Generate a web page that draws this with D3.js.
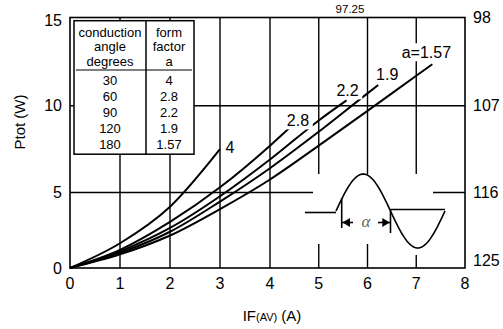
<!DOCTYPE html>
<html>
<head>
<meta charset="utf-8">
<script src="https://cdn.jsdelivr.net/npm/d3@7"></script>
<style>
  body { margin: 0; background: #fff; }
  svg { display: block; font-family: "Liberation Sans", Arial, sans-serif; }
</style>
</head>
<body>
<div id="container"></div>
<script>
// values
const formFactors = ["4", "2.8", "2.2", "1.9", "a=1.57"];
const curve4 = [[0, 0], [1, 1.64], [2, 4.06], [3, 7.5]];
const curve28 = [[0, 0], [1, 1.2], [2, 3.05], [3, 5.3], [4, 7.7], [4.41, 8.75]];
const curve22 = [[0, 0], [1, 1.1], [2, 2.65], [3, 4.75], [4, 6.9], [5, 9.15], [5.57, 10.3]];
const curve19 = [[0, 0], [1, 1.0], [2, 2.4], [3, 4.4], [4, 6.4], [5, 8.5], [6, 10.7], [6.22, 11.17]];
const curve157 = [[0, 0], [1, 0.9], [2, 2.15], [3, 3.9], [4, 5.75], [5, 7.7], [6, 9.7], [7, 11.7], [7.33, 12.35]];
const xTicks = [0, 1, 2, 3, 4, 5, 6, 7, 8];
const yTicks = [0, 5, 10, 15];
const tcaseTicks = [98, 107, 116, 125];
const tableAngles = ["30", "60", "90", "120", "180"];
const tableFactors = ["4", "2.8", "2.2", "1.9", "1.57"];

const width = 503, height = 329;

const svg = d3.select("#container").append("svg")
    .attr("width", width)
    .attr("height", height);

const x = d3.scaleLinear().domain([0, 4, 8]).range([70, 270, 465]);
const y = d3.scaleLinear().domain([0, 5, 10, 15]).range([268, 192.5, 105.7, 17.5]);

// grid
const grid = svg.append("g").attr("stroke", "#000").attr("stroke-width", 1.4);
grid.selectAll("line.v")
    .data(xTicks.slice(1, -1))
    .join("line")
    .attr("x1", d => x(d)).attr("x2", d => x(d))
    .attr("y1", y(15)).attr("y2", y(0));
grid.selectAll("line.h")
    .data([5, 10])
    .join("line")
    .attr("x1", x(0)).attr("x2", x(8))
    .attr("y1", d => y(d)).attr("y2", d => y(d));

// gaps in the grid around the inset
svg.append("rect").attr("x", 313).attr("y", 174).attr("width", 120).attr("height", 70).attr("fill", "#fff");
svg.append("rect").attr("x", 405).attr("y", 243).attr("width", 28).attr("height", 12).attr("fill", "#fff");

// frame
svg.append("rect")
    .attr("x", x(0)).attr("y", y(15))
    .attr("width", x(8) - x(0)).attr("height", y(0) - y(15))
    .attr("fill", "none").attr("stroke", "#000").attr("stroke-width", 1.6);

// curves
const line = d3.line()
    .x(d => x(d[0]))
    .y(d => y(d[1]))
    .curve(d3.curveMonotoneX);

const series = [curve4, curve28, curve22, curve19, curve157];
const labelOffsets = [[10, -2], [8, -7], [1, -10], [9, -11], [-6, -12]];

svg.append("g")
    .attr("fill", "none")
    .attr("stroke", "#000")
    .attr("stroke-width", 2)
    .selectAll("path")
    .data(series)
    .join("path")
    .attr("d", line);

const labels = svg.append("g")
    .attr("font-size", 16)
    .attr("text-anchor", "middle")
    .selectAll("g")
    .data(series)
    .join("g")
    .attr("transform", (d, i) => {
        const last = d[d.length - 1];
        return `translate(${x(last[0]) + labelOffsets[i][0]},${y(last[1]) + labelOffsets[i][1]})`;
    });
labels.append("rect")
    .attr("x", (d, i) => -formFactors[i].length * 4.6 - 1)
    .attr("y", -9)
    .attr("width", (d, i) => formFactors[i].length * 9.2 + 2)
    .attr("height", 18)
    .attr("fill", "#fff");
labels.append("text")
    .attr("dy", "0.35em")
    .text((d, i) => formFactors[i]);

// table
const table = svg.append("g");
table.append("rect")
    .attr("x", 74).attr("y", 20.7).attr("width", 120).attr("height", 133.5)
    .attr("fill", "#fff").attr("stroke", "#000").attr("stroke-width", 1.5);
table.append("line").attr("x1", 146).attr("x2", 146).attr("y1", 20.7).attr("y2", 154.2)
    .attr("stroke", "#000").attr("stroke-width", 1.5);
table.append("line").attr("x1", 76).attr("x2", 192).attr("y1", 70).attr("y2", 70)
    .attr("stroke", "#000").attr("stroke-width", 1.2);
const tText = table.append("g").attr("font-size", 13).attr("text-anchor", "middle");
["conduction", "angle", "degrees"].forEach((t, i) =>
    tText.append("text").attr("x", 110).attr("y", 36.5 + i * 14.5).text(t));
["form", "factor", "a"].forEach((t, i) =>
    tText.append("text").attr("x", 169).attr("y", 36.5 + i * 14.5).text(t));
tableAngles.forEach((t, i) =>
    tText.append("text").attr("x", 110).attr("y", 85 + i * 15.9).text(t));
tableFactors.forEach((t, i) =>
    tText.append("text").attr("x", 169).attr("y", 85 + i * 15.9).text(t));

// inset waveform
const inset = svg.append("g").attr("stroke", "#000").attr("fill", "none").attr("stroke-width", 1.6);
const x0 = 336, base = 211, period = 109, amp = 37;
const wave = d3.range(0, 2 * Math.PI + 0.01, Math.PI / 40).map(t => [x0 + t / (2 * Math.PI) * period, base - amp * Math.sin(t)]);
inset.append("path").attr("d", d3.line()(wave));
inset.append("line").attr("x1", 305).attr("x2", x0).attr("y1", base + 1.5).attr("y2", base + 1.5);
inset.append("line").attr("x1", x0 + period / 2).attr("x2", x0 + period).attr("y1", base - 1.5).attr("y2", base - 1.5);
inset.append("line").attr("x1", 341.7).attr("x2", 341.7).attr("y1", 198).attr("y2", 228);
inset.append("line").attr("x1", x0 + period / 2).attr("x2", x0 + period / 2).attr("y1", base - 1.5).attr("y2", 233);
inset.append("line").attr("x1", 342).attr("x2", 353).attr("y1", 222.5).attr("y2", 222.5);
inset.append("line").attr("x1", 378).attr("x2", 390).attr("y1", 222.5).attr("y2", 222.5);
svg.append("path").attr("d", "M342.5,222.5L350,218L350,227Z").attr("fill", "#000");
svg.append("path").attr("d", "M389.8,222.5L382.3,218L382.3,227Z").attr("fill", "#000");
svg.append("text")
    .attr("x", 366).attr("y", 227)
    .attr("text-anchor", "middle")
    .attr("font-family", "'Liberation Serif', 'DejaVu Serif', serif")
    .attr("font-style", "italic")
    .attr("font-size", 17)
    .attr("fill", "#666")
    .text("α");

// axis labels
svg.append("g")
    .attr("font-size", 16)
    .attr("text-anchor", "middle")
    .selectAll("text")
    .data(xTicks)
    .join("text")
    .attr("x", d => x(d))
    .attr("y", 289)
    .text(d => d);

svg.append("g")
    .attr("font-size", 16)
    .attr("text-anchor", "end")
    .selectAll("text")
    .data(yTicks)
    .join("text")
    .attr("x", 62)
    .attr("y", d => y(d))
    .attr("dy", d => d === 15 ? "0.55em" : "0.35em")
    .text(d => d);

// case temperature on the right: Tc = 125 - 1.8 * P
svg.append("g")
    .attr("font-size", 16)
    .attr("text-anchor", "start")
    .selectAll("text")
    .data(tcaseTicks)
    .join("text")
    .attr("x", 473)
    .attr("y", d => y((125 - d) / 1.8))
    .attr("dy", d => d === 125 ? "-0.15em" : "0.35em")
    .text(d => d);

svg.append("text")
    .attr("x", 350).attr("y", 13)
    .attr("font-size", 11.5)
    .attr("text-anchor", "middle")
    .text("97.25");

const xt = svg.append("text")
    .attr("x", 272).attr("y", 320.5)
    .attr("text-anchor", "middle")
    .attr("font-size", 15);
xt.append("tspan").text("IF");
xt.append("tspan").attr("font-size", 11).text("(AV)");
xt.append("tspan").text(" (A)");

svg.append("text")
    .attr("transform", "translate(25,122) rotate(-90)")
    .attr("text-anchor", "middle")
    .attr("font-size", 15)
    .text("Ptot (W)");
</script>
</body>
</html>
